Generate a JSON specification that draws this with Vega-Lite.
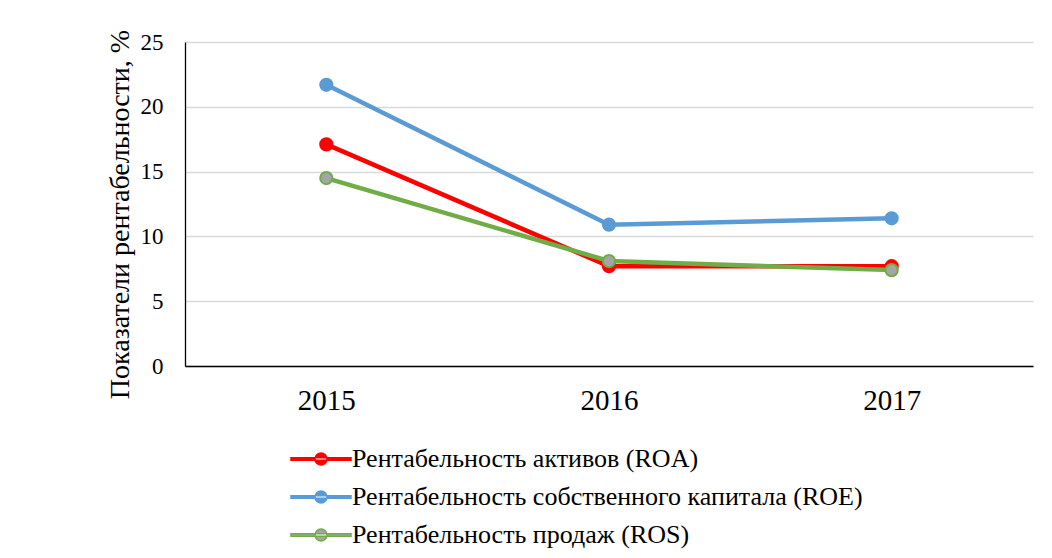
{
  "$schema": "https://vega.github.io/schema/vega-lite/v6.json",
  "width": 848,
  "height": 324,
  "autosize": {"type": "none"},
  "padding": {"left": 185, "top": 42, "right": 19, "bottom": 192},
  "background": "white",
  "config": {
    "view": {"stroke": null},
    "font": "Times New Roman, Liberation Serif, serif"
  },
  "data": {
    "values": [
      {"year": "2015", "series": "Рентабельность активов (ROA)", "value": 17.1},
      {"year": "2016", "series": "Рентабельность активов (ROA)", "value": 7.7},
      {"year": "2017", "series": "Рентабельность активов (ROA)", "value": 7.7},
      {"year": "2015", "series": "Рентабельность собственного капитала (ROE)", "value": 21.7},
      {"year": "2016", "series": "Рентабельность собственного капитала (ROE)", "value": 10.9},
      {"year": "2017", "series": "Рентабельность собственного капитала (ROE)", "value": 11.4},
      {"year": "2015", "series": "Рентабельность продаж (ROS)", "value": 14.5},
      {"year": "2016", "series": "Рентабельность продаж (ROS)", "value": 8.1},
      {"year": "2017", "series": "Рентабельность продаж (ROS)", "value": 7.4}
    ]
  },
  "encoding": {
    "x": {
      "field": "year", "type": "ordinal",
      "scale": {"type": "point", "padding": 0.5},
      "axis": {
        "title": null, "labelAngle": 0, "ticks": false, "grid": false,
        "domainColor": "#000000", "domainWidth": 1.3,
        "labelFont": "Times New Roman, Liberation Serif, serif", "labelFontSize": 29, "labelColor": "#000000",
        "labelPadding": 20
      }
    },
    "y": {
      "field": "value", "type": "quantitative",
      "scale": {"domain": [0, 25], "nice": false},
      "axis": {
        "values": [0, 5, 10, 15, 20, 25], "ticks": false,
        "grid": true, "gridColor": "#d9d9d9", "gridWidth": 1.3,
        "domainColor": "#000000", "domainWidth": 1.3,
        "labelFont": "Times New Roman, Liberation Serif, serif", "labelFontSize": 23, "labelColor": "#000000",
        "labelPadding": 22,
        "title": "Показатели рентабельности, %",
        "titleFont": "Times New Roman, Liberation Serif, serif", "titleFontSize": 28, "titleFontWeight": "normal",
        "titleColor": "#000000", "titlePadding": 6, "titleY": 172
      }
    }
  },
  "layer": [
    {
      "mark": {"type": "line", "strokeWidth": 4.5},
      "encoding": {
        "color": {
          "field": "series", "type": "nominal",
          "scale": {
            "domain": ["Рентабельность активов (ROA)", "Рентабельность собственного капитала (ROE)", "Рентабельность продаж (ROS)"],
            "range": ["#ff0000", "#5b9bd5", "#70ad47"]
          },
          "legend": {
            "title": null,
            "orient": "none",
            "legendX": 105,
            "legendY": 399,
            "direction": "vertical",
            "symbolType": "M-1,-0.045H1V0.045H-1Z M-0.2,0A0.2,0.2 0 1,0 0.2,0A0.2,0.2 0 1,0 -0.2,0Z",
            "symbolSize": 3600,
            "symbolStrokeWidth": 1.5,
            "symbolOpacity": 1,
            "labelFont": "Times New Roman, Liberation Serif, serif",
            "labelFontSize": 26,
            "labelColor": "#000000",
            "labelOffset": 0,
            "labelLimit": 0,
            "clipHeight": 36,
            "rowPadding": 2,
            "encode": {
              "symbols": {
                "update": {
                  "fill": {"signal": "datum.index === 2 ? '#a5a5a5' : scale('color', datum.value)"},
                  "stroke": {"signal": "scale('color', datum.value)"},
                  "opacity": {"value": 1}
                }
              }
            }
          }
        },
        "detail": {"field": "series"}
      }
    },
    {
      "mark": {"type": "point", "filled": true, "size": 150, "strokeWidth": 2, "opacity": 1},
      "encoding": {
        "fill": {
          "field": "series", "type": "nominal",
          "scale": {
            "domain": ["Рентабельность активов (ROA)", "Рентабельность собственного капитала (ROE)", "Рентабельность продаж (ROS)"],
            "range": ["#ff0000", "#5b9bd5", "#a5a5a5"]
          },
          "legend": null
        },
        "stroke": {
          "field": "series", "type": "nominal",
          "scale": {
            "domain": ["Рентабельность активов (ROA)", "Рентабельность собственного капитала (ROE)", "Рентабельность продаж (ROS)"],
            "range": ["#ff0000", "#5b9bd5", "#70ad47"]
          },
          "legend": null
        }
      }
    }
  ]
}
